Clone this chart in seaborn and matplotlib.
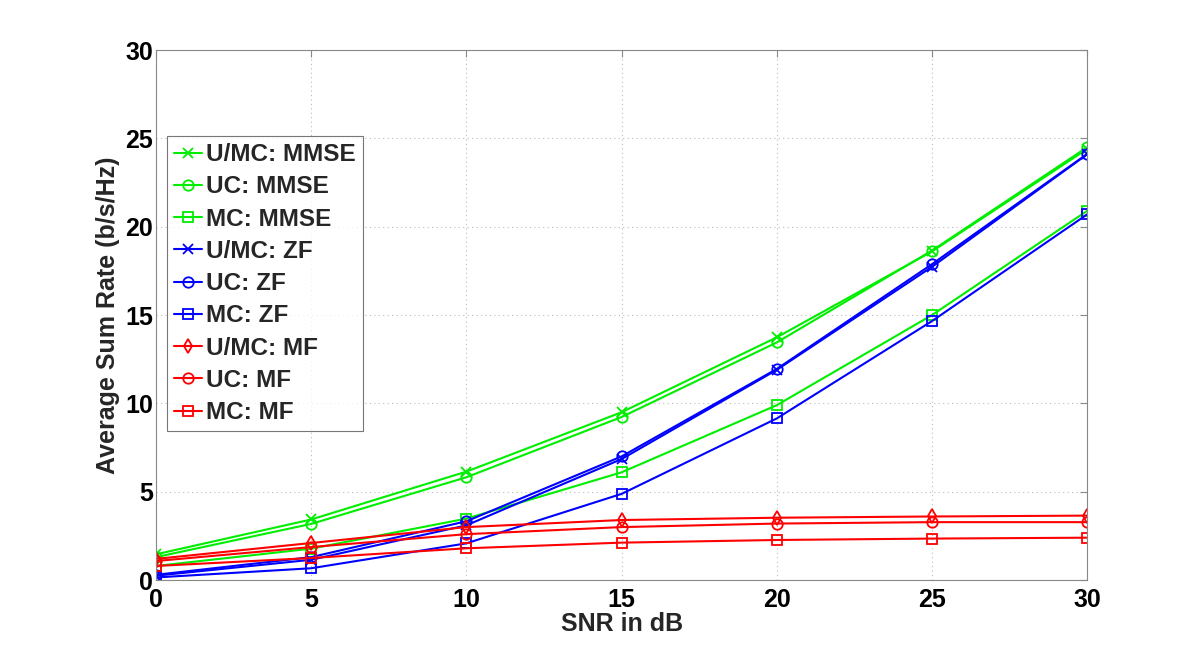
import matplotlib
matplotlib.use("Agg")
import matplotlib.pyplot as plt
import seaborn as sns
import pandas as pd

snr = [0, 5, 10, 15, 20, 25, 30]

umc_mmse = [1.46, 3.43, 6.14, 9.5, 13.74, 18.6, 24.4]
uc_mmse = [1.3, 3.18, 5.82, 9.23, 13.45, 18.65, 24.5]
mc_mmse = [0.8, 1.78, 3.48, 6.1, 9.9, 15.0, 20.9]
umc_zf = [0.25, 1.15, 3.1, 6.85, 11.9, 17.73, 24.1]
uc_zf = [0.3, 1.3, 3.33, 7.0, 11.95, 17.88, 24.12]
mc_zf = [0.15, 0.67, 2.08, 4.88, 9.15, 14.66, 20.7]
umc_mf = [1.2, 2.1, 3.0, 3.4, 3.53, 3.6, 3.65]
uc_mf = [1.08, 1.87, 2.6, 3.0, 3.2, 3.28, 3.28]
mc_mf = [0.8, 1.25, 1.8, 2.12, 2.27, 2.35, 2.4]

labels = ["U/MC: MMSE", "UC: MMSE", "MC: MMSE",
          "U/MC: ZF", "UC: ZF", "MC: ZF",
          "U/MC: MF", "UC: MF", "MC: MF"]
values = [umc_mmse, uc_mmse, mc_mmse, umc_zf, uc_zf, mc_zf, umc_mf, uc_mf, mc_mf]
colors = ["#00ee00"] * 3 + ["#0000ff"] * 3 + ["#ff0000"] * 3
markers = ["x", "o", "s", "x", "o", "s", "d", "o", "s"]

sns.set_style("white")
plt.rcParams["font.family"] = ["Liberation Sans", "DejaVu Sans"]
plt.rcParams["font.weight"] = "bold"

fig = plt.figure(figsize=(12, 6.54), dpi=100)
ax = fig.add_axes([0.13, 0.113, 0.776, 0.8105])

for lab, vals, c, m in zip(labels, values, colors, markers):
    df = pd.DataFrame({"snr": snr, "rate": vals})
    sns.lineplot(data=df, x="snr", y="rate", ax=ax, color=c, marker=m,
                 markersize=7.5, markerfacecolor="none", markeredgecolor=c,
                 markeredgewidth=1.3, linewidth=1.5, label=lab)

ax.set_xlim(0, 30)
ax.set_ylim(0, 30)
ax.set_xticks(range(0, 31, 5))
ax.set_yticks(range(0, 31, 5))
ax.grid(True, linestyle=(0, (1, 3)), color="#bbbbbb", linewidth=0.8)
for s in ax.spines.values():
    s.set_color("#888888")
    s.set_linewidth(0.8)
ax.tick_params(direction="in", length=5, color="#888888", labelsize=18,
               labelcolor="black", top=True, right=True)
ax.tick_params(axis="x", pad=6)
ax.tick_params(axis="y", pad=2)
for t in ax.get_xticklabels() + ax.get_yticklabels():
    t.set_fontweight("bold")
ax.set_xlabel("SNR in dB", fontsize=18, fontweight="bold", labelpad=0)
ax.set_ylabel("Average Sum Rate (b/s/Hz)", fontsize=18, fontweight="bold", labelpad=4)

leg = ax.legend(loc="upper left", bbox_to_anchor=(0.012, 0.838), fontsize=17.5,
                frameon=True, fancybox=False, edgecolor="#555555",
                handlelength=1.15, handletextpad=0.15, borderpad=0.3,
                labelspacing=0.38, borderaxespad=0)
leg.get_frame().set_linewidth(0.8)
for t in leg.get_texts():
    t.set_fontweight("bold")

fig.savefig("out.png", dpi=100, facecolor="white")
